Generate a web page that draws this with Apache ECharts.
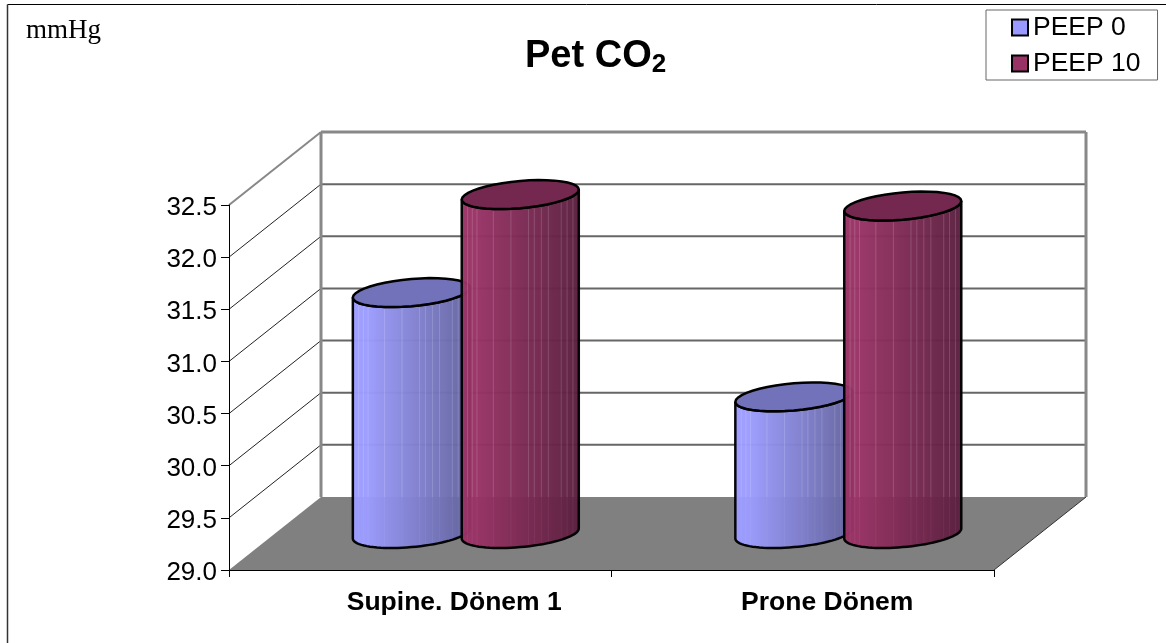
<!DOCTYPE html>
<html>
<head>
<meta charset="utf-8">
<title>Pet CO2</title>
<script src="https://cdn.jsdelivr.net/npm/echarts@6/dist/echarts.min.js"></script>
<style>
  html, body { margin: 0; padding: 0; background: #fff; }
  #chart { width: 1166px; height: 643px; }
</style>
</head>
<body>
<div id="chart"></div>
<script>
// values
const categories = ['Supine. Dönem 1', 'Prone Dönem'];
const peep0 = [31.31, 30.31];
const peep10 = [32.25, 32.14];
const yTicks = [29, 29.5, 30, 30.5, 31, 31.5, 32, 32.5];

const sans = '"Liberation Sans", Arial, sans-serif';
const serif = '"Liberation Serif", "Times New Roman", serif';

// pseudo 3d look
const depthX = 92;
const depthY = -73;
const seamsAt = [.05, .09, .13, .27, .42, .57, .62, .68, .74, .85, .9, .95];

const renderWalls = (params, api) => {
  const rect = params.coordSys;
  const value = api.value(1);
  const y = api.coord([0, value])[1];
  const x0 = rect.x;
  const x1 = rect.x + rect.width;
  const isTop = value === yTicks[yTicks.length - 1];
  const isBottom = value === yTicks[0];
  const children = [];
  const line = (ax, ay, bx, by, color, width) => ({
    type: 'line',
    shape: { x1: ax, y1: ay, x2: bx, y2: by },
    style: { stroke: color, lineWidth: width }
  });

  if (isBottom) {
    children.push({
      type: 'polygon',
      shape: { points: [[x0, y], [x1, y], [x1 + depthX, y + depthY], [x0 + depthX, y + depthY]] },
      style: { fill: '#808080' }
    });
    children.push(line(x1, y, x1 + depthX, y + depthY, '#333', 1));
  } else {
    children.push(line(x0, y, x0 + depthX, y + depthY, isTop ? '#888' : '#222', isTop ? 2 : 1));
    children.push(line(x0 + depthX, y + depthY, x1 + depthX, y + depthY, isTop ? '#888' : '#666', isTop ? 3 : 2));
  }
  if (isTop) {
    const floorY = api.coord([0, yTicks[0]])[1] + depthY;
    children.push(line(x0 + depthX, y + depthY, x0 + depthX, floorY, '#888', 3));
    children.push(line(x1 + depthX, y + depthY, x1 + depthX, floorY, '#888', 3));
  }
  return { type: 'group', children };
};

// shift: where the cylinder sits inside the band, as a share of the band
const renderCylinder = (shift, colors) => (params, api) => {
  const band = api.size([1, 0])[0];
  const top = api.coord([api.value(0), api.value(1)]);
  const base = api.coord([api.value(0), yTicks[0]]);
  const floorBack = base[1] + depthY;
  const cx = top[0] + depthX / 2 + band * shift;
  const topY = top[1] + depthY / 2;
  const baseY = base[1] + depthY / 2;
  const a = band * 0.153;
  const b = 13.6;
  const s = 5;
  const pt = (cy, t) => [cx + a * Math.cos(t), cy + b * Math.sin(t) - s * Math.cos(t)];

  const arc = (cy, from, to) => {
    const out = [];
    for (let i = 0; i <= 40; i++) out.push(pt(cy, from + (to - from) * i / 40));
    return out;
  };
  const lowerY = (cy, f) => {
    const t = Math.acos(1 - 2 * f);
    return cy + b * Math.sin(t) + s * Math.cos(t);
  };

  const children = [{
    type: 'polygon',
    shape: { points: arc(topY, Math.PI, 0).concat(arc(baseY, 0, Math.PI)) },
    style: {
      fill: new echarts.graphic.LinearGradient(0, 0, 1, 0, [
        { offset: 0, color: colors.light },
        { offset: 0.12, color: colors.light },
        { offset: 1, color: colors.dark }
      ]),
      stroke: '#000',
      lineWidth: 2.5,
      opacity: 0.97
    }
  }];

  seamsAt.forEach((f) => {
    const x = cx - a + 2 * a * f;
    const yTop = lowerY(topY, f);
    const yBottom = lowerY(baseY, f);
    const yFloor = Math.min(Math.max(floorBack, yTop), yBottom);
    children.push({
      type: 'line',
      shape: { x1: x, y1: yTop + 2, x2: x, y2: yFloor },
      style: { stroke: '#fff', lineWidth: 1, opacity: 0.16 }
    });
    children.push({
      type: 'line',
      shape: { x1: x, y1: yFloor, x2: x, y2: yBottom - 2 },
      style: { stroke: '#fff', lineWidth: 1, opacity: 0.05 }
    });
  });

  children.push({
    type: 'polygon',
    shape: { points: arc(topY, 0, Math.PI * 2) },
    style: { fill: colors.top, stroke: '#000', lineWidth: 2.5 }
  });
  return { type: 'group', children };
};

const catLabel = { fontFamily: sans, fontSize: 26.5, fontWeight: 'bold', color: '#000' };
const myChart = echarts.init(document.getElementById('chart'), null, { renderer: 'canvas' });
const option = {
  backgroundColor: '#fff',
  animation: false,
  title: [
    {
      text: '{a|Pet CO}{b|2}',
      left: 525,
      top: 36,
      padding: 0,
      textStyle: {
        rich: {
          a: { fontFamily: sans, fontWeight: 'bold', fontSize: 38, color: '#000' },
          b: { fontFamily: sans, fontWeight: 'bold', fontSize: 26, color: '#000', padding: [16, 0, 0, 0] }
        }
      }
    },
    {
      text: 'mmHg',
      left: 26,
      top: 17,
      padding: 0,
      textStyle: { fontFamily: serif, fontWeight: 'normal', fontSize: 27, color: '#000' }
    }
  ],
  legend: {
    orient: 'vertical',
    left: 986,
    top: 10,
    padding: [4, 17, 3, 25],
    icon: 'rect',
    itemWidth: 16,
    itemHeight: 16,
    itemGap: 9,
    backgroundColor: '#fff',
    borderColor: '#666',
    borderWidth: 1,
    textStyle: { fontFamily: sans, fontSize: 26.5, color: '#000' },
    data: [
      { name: 'PEEP 0', itemStyle: { color: '#9999ff', borderColor: '#000', borderWidth: 2 } },
      { name: 'PEEP 10', itemStyle: { color: '#993366', borderColor: '#000', borderWidth: 2 } }
    ]
  },
  grid: { left: 229, top: 205, width: 765, height: 365 },
  xAxis: {
    type: 'category',
    data: categories,
    z: 5,
    axisLine: { lineStyle: { color: '#000', width: 1 } },
    axisTick: { show: true, length: 7, lineStyle: { color: '#000' } },
    axisLabel: {
      margin: 19,
      formatter: (value, index) => '{c' + index + '|' + value + '}',
      rich: {
        c0: { ...catLabel, padding: [0, 0, 0, 68] },
        c1: { ...catLabel, padding: [0, 0, 0, 49] }
      }
    },
    splitLine: { show: false }
  },
  yAxis: {
    type: 'value',
    min: 29,
    max: 32.5,
    interval: 0.5,
    z: 5,
    axisLine: { show: true, lineStyle: { color: '#000', width: 1 } },
    axisTick: { show: true, length: 8, lineStyle: { color: '#000' } },
    axisLabel: {
      margin: 12,
      formatter: (value) => '{v|' + value.toFixed(1) + '}',
      rich: { v: { fontFamily: sans, fontSize: 26, color: '#000', padding: [6, 0, 0, 0] } }
    },
    splitLine: { show: false }
  },
  series: [
    {
      name: 'walls',
      type: 'custom',
      silent: true,
      z: 1,
      encode: { x: 0, y: 1 },
      data: yTicks.map((v) => [0, v]),
      renderItem: renderWalls
    },
    {
      name: 'PEEP 0',
      type: 'custom',
      z: 2,
      itemStyle: { color: '#9999ff' },
      encode: { x: 0, y: 1 },
      data: peep0.map((v, i) => [i, v]),
      renderItem: renderCylinder(-0.1435, { light: '#9c9cff', dark: '#62629c', top: '#7272bb' })
    },
    {
      name: 'PEEP 10',
      type: 'custom',
      z: 3,
      itemStyle: { color: '#993366' },
      encode: { x: 0, y: 1 },
      data: peep10.map((v, i) => [i, v]),
      renderItem: renderCylinder(0.1412, { light: '#993366', dark: '#5a1f3e', top: '#75284f' })
    }
  ],
  graphic: [
    { type: 'line', silent: true, shape: { x1: 7.5, y1: 4.5, x2: 1166, y2: 4.5 }, style: { stroke: '#000', lineWidth: 1 } },
    { type: 'line', silent: true, shape: { x1: 7.5, y1: 4.5, x2: 7.5, y2: 643 }, style: { stroke: '#333', lineWidth: 1.5 } }
  ]
};
myChart.setOption(option);
window.addEventListener('resize', () => myChart.resize());
</script>
</body>
</html>
